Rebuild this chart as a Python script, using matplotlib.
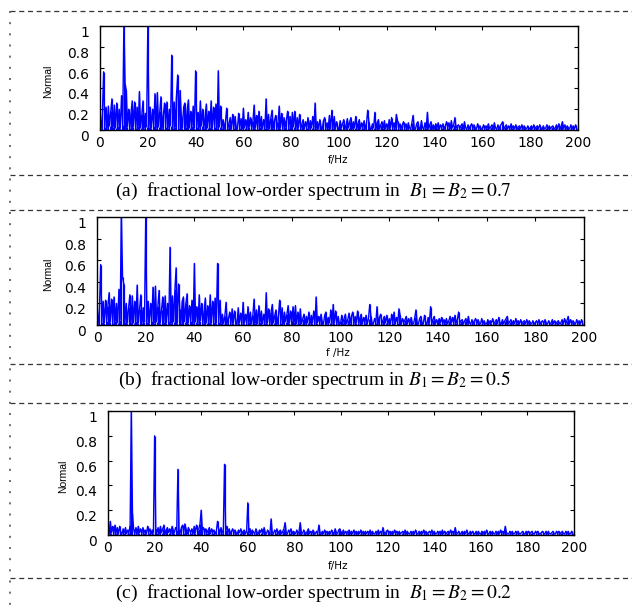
import numpy as np
import matplotlib
matplotlib.use("Agg")
import matplotlib.pyplot as plt

plt.rcParams['font.family'] = ['DejaVu Sans']
plt.rcParams['mathtext.fontset'] = 'stix'

spec_ab = [
    0.12, 0.02, 0.15, 0.56, 0.03, 0.22, 0.02, 0.23, 0.04, 0.18, 0.30, 0.03, 0.24, 0.02, 0.26, 0.04, 0.20, 0.02, 0.33, 0.05,
    1.05, 0.44, 0.38, 0.03, 0.20, 0.02, 0.17, 0.28, 0.03, 0.27, 0.02, 0.22, 0.04, 0.37, 0.02, 0.15, 0.28, 0.02, 0.16, 0.03,
    1.00, 0.03, 0.22, 0.02, 0.20, 0.04, 0.35, 0.02, 0.36, 0.03, 0.18, 0.32, 0.02, 0.14, 0.26, 0.03, 0.27, 0.02, 0.20, 0.04,
    0.72, 0.02, 0.27, 0.03, 0.33, 0.53, 0.02, 0.38, 0.15, 0.02, 0.22, 0.26, 0.03, 0.20, 0.29, 0.02, 0.18, 0.04, 0.23, 0.02,
    0.57, 0.03, 0.17, 0.02, 0.28, 0.04, 0.20, 0.02, 0.14, 0.25, 0.02, 0.18, 0.03, 0.28, 0.02, 0.22, 0.03, 0.25, 0.02, 0.57,
    0.03, 0.23, 0.02, 0.10, 0.01, 0.08, 0.21, 0.02, 0.06, 0.12, 0.01, 0.15, 0.02, 0.13, 0.03, 0.01, 0.16, 0.02, 0.11, 0.01,
    0.21, 0.02, 0.10, 0.01, 0.17, 0.03, 0.12, 0.01, 0.09, 0.24, 0.02, 0.14, 0.01, 0.18, 0.03, 0.13, 0.01, 0.10, 0.02, 0.30,
    0.02, 0.15, 0.01, 0.12, 0.19, 0.02, 0.09, 0.14, 0.01, 0.08, 0.23, 0.02, 0.16, 0.01, 0.12, 0.03, 0.10, 0.18, 0.02, 0.13,
    0.01, 0.17, 0.03, 0.18, 0.01, 0.12, 0.02, 0.15, 0.01, 0.06, 0.10, 0.01, 0.08, 0.02, 0.12, 0.01, 0.09, 0.02, 0.13, 0.01,
    0.26, 0.02, 0.08, 0.01, 0.10, 0.03, 0.01, 0.09, 0.12, 0.01, 0.07, 0.02, 0.14, 0.01, 0.19, 0.02, 0.13, 0.01, 0.08, 0.02,
    0.01, 0.09, 0.02, 0.06, 0.10, 0.01, 0.05, 0.11, 0.02, 0.08, 0.12, 0.01, 0.08, 0.02, 0.13, 0.01, 0.07, 0.10, 0.01, 0.07,
    0.02, 0.09, 0.01, 0.06, 0.19, 0.08, 0.02, 0.01, 0.06, 0.02, 0.17, 0.01, 0.07, 0.10, 0.01, 0.05, 0.08, 0.02, 0.09, 0.01,
    0.06, 0.01, 0.10, 0.02, 0.12, 0.01, 0.07, 0.02, 0.15, 0.09, 0.01, 0.06, 0.02, 0.05, 0.08, 0.01, 0.06, 0.01, 0.07, 0.02,
    0.01, 0.07, 0.14, 0.02, 0.01, 0.06, 0.08, 0.02, 0.01, 0.09, 0.02, 0.01, 0.07, 0.02, 0.17, 0.01, 0.05, 0.08, 0.01, 0.05,
    0.01, 0.06, 0.02, 0.07, 0.01, 0.05, 0.02, 0.06, 0.01, 0.04, 0.08, 0.02, 0.07, 0.01, 0.09, 0.02, 0.05, 0.12, 0.02, 0.04,
    0.05, 0.01, 0.04, 0.06, 0.01, 0.08, 0.02, 0.01, 0.05, 0.01, 0.04, 0.06, 0.01, 0.05, 0.02, 0.01, 0.06, 0.01, 0.04, 0.01,
    0.01, 0.05, 0.01, 0.04, 0.02, 0.06, 0.01, 0.03, 0.05, 0.01, 0.07, 0.02, 0.01, 0.05, 0.01, 0.04, 0.06, 0.08, 0.01, 0.03,
    0.05, 0.01, 0.04, 0.01, 0.06, 0.02, 0.04, 0.01, 0.05, 0.01, 0.03, 0.04, 0.01, 0.05, 0.01, 0.04, 0.02, 0.01, 0.04, 0.01,
    0.02, 0.04, 0.01, 0.05, 0.01, 0.03, 0.04, 0.01, 0.05, 0.02, 0.01, 0.04, 0.01, 0.02, 0.05, 0.01, 0.04, 0.01, 0.03, 0.04,
    0.01, 0.02, 0.05, 0.01, 0.06, 0.01, 0.04, 0.08, 0.01, 0.05, 0.01, 0.04, 0.02, 0.01, 0.05, 0.01, 0.04, 0.01, 0.05, 0.01,
]

spec_c = [
    0.04, 0.01, 0.11, 0.02, 0.07, 0.01, 0.08, 0.02, 0.06, 0.01, 0.07, 0.02, 0.01, 0.05, 0.02, 0.06, 0.01, 0.04, 0.02, 0.08,
    1.00, 0.18, 0.05, 0.01, 0.06, 0.01, 0.07, 0.02, 0.05, 0.01, 0.06, 0.02, 0.04, 0.01, 0.07, 0.02, 0.05, 0.01, 0.04, 0.02,
    0.80, 0.05, 0.02, 0.06, 0.01, 0.07, 0.02, 0.05, 0.08, 0.01, 0.04, 0.06, 0.02, 0.05, 0.01, 0.07, 0.04, 0.02, 0.06, 0.04,
    0.53, 0.04, 0.02, 0.06, 0.08, 0.02, 0.09, 0.05, 0.01, 0.06, 0.04, 0.02, 0.05, 0.01, 0.07, 0.02, 0.08, 0.04, 0.05, 0.09,
    0.20, 0.04, 0.06, 0.01, 0.05, 0.02, 0.04, 0.06, 0.01, 0.05, 0.02, 0.04, 0.01, 0.03, 0.11, 0.05, 0.01, 0.06, 0.02, 0.04,
    0.57, 0.04, 0.07, 0.02, 0.05, 0.01, 0.03, 0.05, 0.01, 0.04, 0.02, 0.01, 0.04, 0.02, 0.05, 0.01, 0.03, 0.04, 0.01, 0.03,
    0.26, 0.02, 0.05, 0.01, 0.04, 0.02, 0.01, 0.05, 0.02, 0.01, 0.04, 0.02, 0.05, 0.01, 0.06, 0.02, 0.01, 0.04, 0.02, 0.01,
    0.13, 0.02, 0.01, 0.04, 0.02, 0.05, 0.01, 0.03, 0.04, 0.01, 0.03, 0.05, 0.10, 0.02, 0.01, 0.04, 0.02, 0.05, 0.01, 0.03,
    0.02, 0.01, 0.04, 0.01, 0.03, 0.10, 0.02, 0.01, 0.04, 0.02, 0.01, 0.03, 0.05, 0.01, 0.03, 0.01, 0.04, 0.02, 0.01, 0.03,
    0.01, 0.08, 0.02, 0.01, 0.03, 0.01, 0.04, 0.01, 0.03, 0.01, 0.03, 0.01, 0.04, 0.02, 0.01, 0.05, 0.02, 0.01, 0.04, 0.05,
    0.02, 0.01, 0.04, 0.01, 0.03, 0.01, 0.03, 0.04, 0.01, 0.03, 0.01, 0.04, 0.01, 0.03, 0.01, 0.03, 0.01, 0.04, 0.01, 0.03,
    0.01, 0.03, 0.01, 0.03, 0.01, 0.04, 0.01, 0.03, 0.01, 0.01, 0.03, 0.01, 0.04, 0.01, 0.03, 0.01, 0.06, 0.02, 0.01, 0.03,
    0.04, 0.01, 0.03, 0.01, 0.03, 0.01, 0.04, 0.01, 0.03, 0.01, 0.03, 0.01, 0.02, 0.03, 0.01, 0.04, 0.01, 0.03, 0.01, 0.01,
    0.03, 0.01, 0.03, 0.01, 0.04, 0.01, 0.01, 0.03, 0.01, 0.03, 0.01, 0.04, 0.01, 0.03, 0.01, 0.02, 0.03, 0.01, 0.04, 0.01,
    0.03, 0.01, 0.01, 0.03, 0.01, 0.03, 0.01, 0.04, 0.01, 0.03, 0.01, 0.02, 0.03, 0.01, 0.04, 0.01, 0.03, 0.01, 0.06, 0.02,
    0.01, 0.03, 0.01, 0.01, 0.03, 0.01, 0.03, 0.01, 0.04, 0.01, 0.01, 0.03, 0.01, 0.03, 0.01, 0.01, 0.03, 0.01, 0.03, 0.01,
    0.01, 0.03, 0.01, 0.03, 0.01, 0.04, 0.01, 0.01, 0.03, 0.01, 0.03, 0.01, 0.01, 0.03, 0.01, 0.03, 0.01, 0.04, 0.01, 0.03,
    0.01, 0.07, 0.02, 0.01, 0.01, 0.03, 0.01, 0.03, 0.01, 0.01, 0.03, 0.01, 0.03, 0.01, 0.01, 0.02, 0.03, 0.01, 0.01, 0.03,
    0.01, 0.03, 0.01, 0.02, 0.03, 0.01, 0.01, 0.03, 0.01, 0.03, 0.01, 0.01, 0.02, 0.03, 0.01, 0.01, 0.03, 0.01, 0.03, 0.01,
    0.01, 0.02, 0.03, 0.01, 0.01, 0.03, 0.01, 0.03, 0.01, 0.02, 0.03, 0.01, 0.01, 0.03, 0.01, 0.03, 0.01, 0.01, 0.03, 0.01,
]

df = 0.5
xticks = [0, 20, 40, 60, 80, 100, 120, 140, 160, 180, 200]
yticks = [0, 0.2, 0.4, 0.6, 0.8, 1]
ytick_labels = ["0", "0.2", "0.4", "0.6", "0.8", "1"]
xlabels = ["f/Hz", "f /Hz", "f/Hz"]
captions = [
    r"(a)  fractional low-order spectrum in  $B_1=B_2=0.7$",
    r"(b)  fractional low-order spectrum in $B_1=B_2=0.5$",
    r"(c)  fractional low-order spectrum in  $B_1=B_2=0.2$",
]
panels = [spec_ab, spec_ab, spec_c]

W, H = 632, 610
fig = plt.figure(figsize=(W / 100, H / 100), dpi=100)

# background layer in pixel units for the dashed frame and captions
bg = fig.add_axes([0, 0, 1, 1])
bg.set_xlim(0, W)
bg.set_ylim(H, 0)
bg.axis("off")
for yy in [11, 175, 210, 364, 403, 578]:
    bg.plot([10, W], [yy, yy], color="#333333", lw=0.9, dashes=(4, 3))
bg.plot([10, 10], [11, H], color="#555555", lw=1.2, dashes=(1.2, 5.5))

# axes boxes in pixels: left, top, right, bottom
boxes = [(100, 26, 578, 130), (97, 217, 584, 325), (108, 411, 574, 535)]
ylab_x = [48, 48, 63]
xlab_y = [160, 353, 566]
cap_pos = [(115, 191), (118, 380), (115, 593)]

for k in range(3):
    l, t, r, b = boxes[k]
    ax = fig.add_axes([l / W, 1 - b / H, (r - l) / W, (b - t) / H])
    vals = np.array(panels[k])
    freqs = np.arange(len(vals)) * df
    ax.vlines(freqs, 0, vals, color="#0000ff", lw=0.9)
    ax.plot(freqs, vals, color="#0000ff", lw=1.0)
    ax.set_xlim(0, 200)
    ax.set_ylim(0, 1)
    ax.set_xticks(xticks)
    ax.set_yticks(yticks)
    ax.set_yticklabels(ytick_labels)
    ax.tick_params(direction="in", top=True, right=True, length=3,
                   labelsize=10, width=0.8)
    ax.tick_params(axis="x", pad=4)
    ax.tick_params(axis="y", pad=8)
    for lab in ax.get_yticklabels():
        lab.set_va("top")
    for s in ax.spines.values():
        s.set_linewidth(1.0)
    bg.text(ylab_x[k], (t + b) / 2 + 3, "Normal", rotation=90, fontsize=7.5,
            family="Liberation Sans", ha="center", va="center")
    bg.text(338, xlab_y[k], xlabels[k], fontsize=7.5,
            family="DejaVu Sans", ha="center", va="center")
    bg.text(cap_pos[k][0], cap_pos[k][1], captions[k], fontsize=14,
            family="Liberation Serif", ha="left", va="center")

fig.savefig("out.png", dpi=100)
